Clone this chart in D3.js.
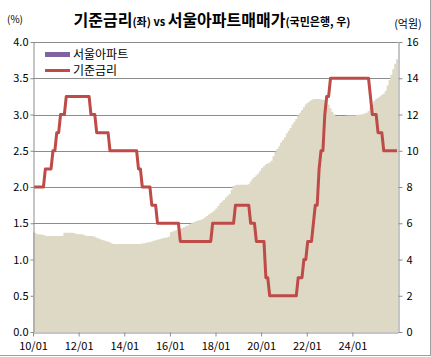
<!DOCTYPE html>
<html><head><meta charset="utf-8">
<script src="https://cdn.jsdelivr.net/npm/d3@7"></script>
<style>body{margin:0;background:#fff}svg{display:block}</style>
</head><body><svg id="c" width="431" height="357"></svg>
<script>
// Monthly, 2010-01 .. 2025-12
const startYear = 2010;
const xTickLabels = ["10/01","12/01","14/01","16/01","18/01","20/01","22/01","24/01"];
const leftTicks = [0,0.5,1.0,1.5,2.0,2.5,3.0,3.5,4.0];
const rightTicks = [0,2,4,6,8,10,12,14,16];
// 서울아파트 평균매매가 (억원, KB)
const seoulPrice = [
 5.50,5.45,5.40,5.40,5.38,5.35,5.32,5.30,5.30,5.30,5.30,5.30,
 5.30,5.30,5.30,5.30,5.48,5.48,5.48,5.48,5.47,5.46,5.42,5.40,
 5.40,5.40,5.38,5.32,5.30,5.30,5.30,5.28,5.25,5.20,5.17,5.12,
 5.08,5.05,5.02,4.98,4.95,4.88,4.86,4.86,4.86,4.86,4.86,4.86,
 4.86,4.86,4.86,4.86,4.86,4.86,4.86,4.86,4.87,4.88,4.90,4.92,
 4.95,4.97,5.00,5.03,5.06,5.09,5.12,5.15,5.18,5.20,5.22,5.25,
 5.50,5.55,5.58,5.62,5.65,5.70,5.74,5.78,5.83,5.88,5.94,6.00,
 6.05,6.10,6.14,6.17,6.20,6.25,6.32,6.40,6.48,6.55,6.62,6.72,
 6.82,6.95,7.10,7.20,7.30,7.42,7.52,7.62,7.85,8.05,8.10,8.12,
 8.12,8.12,8.12,8.12,8.13,8.15,8.30,8.45,8.55,8.65,8.75,8.90,
 9.05,9.15,9.25,9.30,9.35,9.45,9.70,9.95,10.10,10.25,10.45,10.60,
 10.75,10.95,11.10,11.25,11.45,11.60,11.75,11.95,12.10,12.25,12.40,12.55,
 12.65,12.72,12.80,12.84,12.85,12.85,12.85,12.84,12.82,12.78,12.70,12.55,
 12.35,12.15,12.00,11.92,11.90,11.90,11.90,11.92,11.93,11.95,11.95,11.95,
 11.95,11.95,11.97,11.98,12.00,12.02,12.05,12.10,12.20,12.40,12.60,12.75,
 12.85,12.92,13.00,13.08,13.15,13.30,13.60,13.90,14.20,14.50,14.80,15.05
];
// 기준금리 (%)
const baseRate = [
 2.00,2.00,2.00,2.00,2.00,2.00,2.25,2.25,2.25,2.25,2.50,2.50,
 2.75,2.75,3.00,3.00,3.00,3.25,3.25,3.25,3.25,3.25,3.25,3.25,
 3.25,3.25,3.25,3.25,3.25,3.25,3.00,3.00,3.00,2.75,2.75,2.75,
 2.75,2.75,2.75,2.75,2.50,2.50,2.50,2.50,2.50,2.50,2.50,2.50,
 2.50,2.50,2.50,2.50,2.50,2.50,2.50,2.25,2.25,2.00,2.00,2.00,
 2.00,2.00,1.75,1.75,1.75,1.50,1.50,1.50,1.50,1.50,1.50,1.50,
 1.50,1.50,1.50,1.50,1.50,1.25,1.25,1.25,1.25,1.25,1.25,1.25,
 1.25,1.25,1.25,1.25,1.25,1.25,1.25,1.25,1.25,1.25,1.50,1.50,
 1.50,1.50,1.50,1.50,1.50,1.50,1.50,1.50,1.50,1.50,1.75,1.75,
 1.75,1.75,1.75,1.75,1.75,1.75,1.50,1.50,1.50,1.25,1.25,1.25,
 1.25,1.25,0.75,0.75,0.50,0.50,0.50,0.50,0.50,0.50,0.50,0.50,
 0.50,0.50,0.50,0.50,0.50,0.50,0.50,0.75,0.75,0.75,1.00,1.00,
 1.25,1.25,1.25,1.50,1.75,1.75,2.25,2.50,2.50,3.00,3.25,3.25,
 3.50,3.50,3.50,3.50,3.50,3.50,3.50,3.50,3.50,3.50,3.50,3.50,
 3.50,3.50,3.50,3.50,3.50,3.50,3.50,3.50,3.50,3.25,3.00,3.00,
 3.00,2.75,2.75,2.75,2.50,2.50,2.50,2.50,2.50,2.50,2.50,2.50
];
const titleMain1 = "기준금리", titleSub1 = "(좌)", titleVs = " vs ", titleMain2 = "서울아파트매매가", titleSub2 = "(국민은행, 우)";
const seriesNames = ["서울아파트","기준금리"];

const svg = d3.select("#c");
const font = "'Noto Sans CJK KR','Noto Sans',sans-serif";
const L = 33, R = 398, T = 42, B = 332;
const n = seoulPrice.length;
const x = d3.scaleLinear().domain([0, n]).range([L, R]);
const yL = d3.scaleLinear().domain([0, 4]).range([B, T]);
const yR = d3.scaleLinear().domain([0, 16]).range([B, T]);

// gridlines
svg.append("g").selectAll("line").data(leftTicks.filter(d=>d>0)).join("line")
  .attr("x1", L).attr("x2", R).attr("y1", d=>Math.round(yL(d))+0.5).attr("y2", d=>Math.round(yL(d))+0.5)
  .attr("stroke", "#8c8c8c").attr("stroke-width", 1);

// area (monthly columns, no gap)
const stepData = seoulPrice.map((v,i)=>({i, v})).concat([{i:n, v:seoulPrice[n-1]}]);
svg.append("path").datum(stepData)
  .attr("d", d3.area().curve(d3.curveStepAfter).x(d=>x(d.i)).y0(B).y1(d=>yR(d.v)))
  .attr("fill", "#ddd9c4");

// rate line
svg.append("path").datum(baseRate)
  .attr("d", d3.line().x((d,i)=>x(i+0.5)).y(d=>yL(d)))
  .attr("fill","none").attr("stroke","#be4b48").attr("stroke-width",3).attr("stroke-linejoin","round");

// axes
const ax = d3.axisBottom(x).tickValues(xTickLabels.map((d,i)=>i*24)).tickFormat((d,i)=>xTickLabels[i]).tickSize(4).tickSizeOuter(0);
const gx = svg.append("g").attr("transform",`translate(0,${B+0.5})`).call(ax);
const al = d3.axisLeft(yL).tickValues(leftTicks).tickFormat(d3.format(".1f")).tickSize(3).tickSizeOuter(0);
const gl = svg.append("g").attr("transform",`translate(${L+0.5},0)`).call(al);
const ar = d3.axisRight(yR).tickValues(rightTicks).tickFormat(d3.format("d")).tickSize(4).tickSizeOuter(0);
const gr = svg.append("g").attr("transform",`translate(${R+0.5},0)`).call(ar);
[gx,gl,gr].forEach(g=>{
  g.selectAll(".domain,line").attr("stroke","#8c8c8c");
  g.selectAll("text").attr("fill","#000").style("font-family",font).style("font-size","11px");
});
gx.selectAll("text").attr("dy","0.95em");
gl.selectAll("text").attr("x",-5);
gr.selectAll("text").attr("x",8);

// title
const title = svg.append("text").attr("x", 212).attr("y", 26).attr("text-anchor","middle")
  .style("font-family",font).attr("fill","#000");
title.append("tspan").text(titleMain1).style("font-size","16px").style("font-weight","bold");
title.append("tspan").text(titleSub1).style("font-size","11px").style("font-weight","bold");
title.append("tspan").text(titleVs).style("font-size","11px").style("font-weight","bold");
title.append("tspan").text(titleMain2).style("font-size","16px").style("font-weight","bold");
title.append("tspan").text(titleSub2).style("font-size","11px").style("font-weight","bold");

svg.append("text").attr("x",15).attr("y",23).attr("text-anchor","middle").text("(%)")
  .style("font-family",font).style("font-size","10px");
svg.append("text").attr("x",408).attr("y",28).attr("text-anchor","middle").text("(억원)")
  .style("font-family",font).style("font-size","11px");

// legend
const leg = svg.append("g");
leg.append("rect").attr("x",45).attr("y",52).attr("width",25).attr("height",5).attr("fill","#8064a2");
leg.append("line").attr("x1",45).attr("x2",70).attr("y1",70.5).attr("y2",70.5).attr("stroke","#be4b48").attr("stroke-width",3);
leg.selectAll("text").data(seriesNames).join("text")
  .attr("x",73).attr("y",(d,i)=>55+i*16).attr("dy","0.35em").text(d=>d)
  .style("font-family",font).style("font-size","12px");

// frame lines
svg.append("line").attr("x1",0).attr("x2",431).attr("y1",355.5).attr("y2",355.5).attr("stroke","#a0a0a0");
svg.append("line").attr("x1",430.5).attr("x2",430.5).attr("y1",0).attr("y2",356).attr("stroke","#a0a0a0");
</script></body></html>
